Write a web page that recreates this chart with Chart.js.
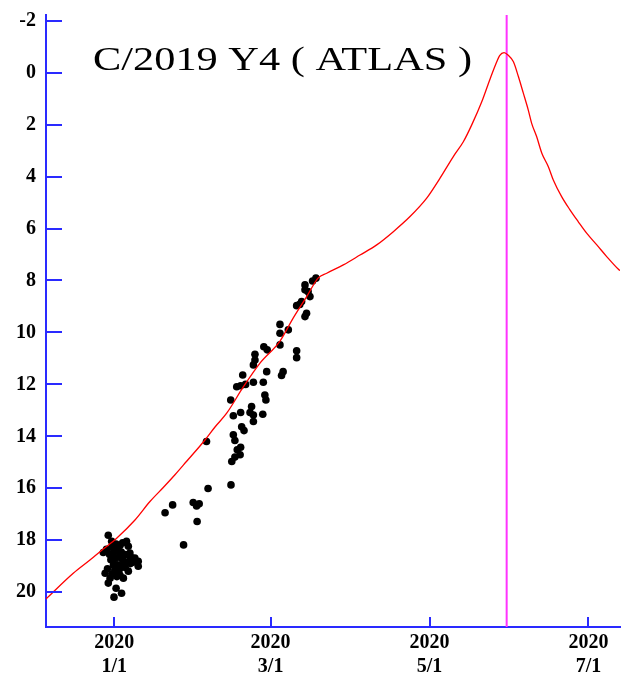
<!DOCTYPE html>
<html><head><meta charset="utf-8">
<style>html,body{margin:0;padding:0;background:#fff;}#wrap{width:624px;height:680px;}</style>
<script src="https://cdn.jsdelivr.net/npm/chart.js@4"></script>
</head><body><div id="wrap"><canvas id="c" width="624" height="680"></canvas></div>
<script>
const TITLE = 'C/2019 Y4 ( ATLAS )';
// x values are days from 2020-01-01
const X_TICK_DAYS = [0, 60, 121, 182];
const X_TICK_LABELS = [['2020', '1/1'], ['2020', '3/1'], ['2020', '5/1'], ['2020', '7/1']];
const Y_TICKS = [-2, 0, 2, 4, 6, 8, 10, 12, 14, 16, 18, 20];
const X_RANGE = [-26.2, 194.1];
const Y_RANGE = [-2.22, 21.34];
const PERIHELION_DAY = 150.6;

const CURVE_DAYS = [-26.2, -15.74, -9.33, -4.22, 0.92, 7.95, 13.70, 18.81, 23.30, 27.79, 34.82, 38.66, 43.15, 49.52,
  55.93, 63.61, 68.71, 73.86, 78.31,
  81.54, 87.91, 94.32, 100.73, 107.10, 113.51, 119.92, 125.03, 130.13, 133.97, 137.20, 141.04, 144.2, 146.8,
  147.9, 149.6, 151.1, 153.2, 155.1, 157.0, 158.9, 160.2, 162.1, 164.1, 166.6, 168.5, 171.7, 174.9, 178.1,
  181.3, 185.2, 189.0, 193.5, 194.1];
const CURVE_MAGS = [20.26, 19.27, 18.76, 18.34, 17.92, 17.22, 16.51, 15.97, 15.48, 14.96, 14.14, 13.64, 13.11, 12.10,
  11.18, 10.33, 9.44, 8.62, 7.90,
  7.72, 7.40, 7.02, 6.63, 6.12, 5.54, 4.83, 4.06, 3.23, 2.66, 2.01, 1.12, 0.25, -0.42,
  -0.66, -0.77, -0.68, -0.42, 0.15, 0.79, 1.44, 1.95, 2.46, 3.10, 3.62, 4.13, 4.77, 5.28, 5.74,
  6.18, 6.63, 7.08, 7.57, 7.62];

const OBS_DAYS = [77.4, 76.1, 73.2, 73.2, 74.4, 75.1, 71.9, 70.0, 71.2, 73.8, 73.2, 63.6, 63.6, 66.8, 63.6, 70.0, 70.0,
  57.4, 58.7, 54.0, 54.0, 53.4, 58.5, 64.8, 64.2, 49.3, 53.4, 57.2, 47.0, 48.5, 50.4, 44.7, 57.8, 58.2, 52.7,
  45.7, 48.5, 52.1, 53.4, 57.0, 53.4, 48.9, 49.8, 45.7, 46.3, 48.5, 47.2, 48.3, 46.3, 45.1, 44.8, 35.4, 36.0,
  30.3, 32.6, 31.6, 22.4, 19.5, 31.8, 26.6,
  -2.3, -1.0, 4.7, 5.4, 6.0, 6.7, 9.2, 9.2, 5.4, -4.2, 7.9, -3.5, -1.6, 3.5, -2.3, 0.7, 2.8, -0.1,
  -0.8, 0.7, 2.2, 3.2, -1.8, -0.3, 1.2, 2.7, 4.2, 5.7, 6.7, -1.3, 0.2, 1.7, 3.2, 4.7, 6.2, 7.2,
  -0.3, 1.2, 2.7, 4.2, 0.2, 1.7, -2.6, -0.8, 1.0, 2.2, -3.0, 3.7, 2.0];
const OBS_MAGS = [7.91, 8.02, 8.17, 8.36, 8.43, 8.62, 8.81, 8.97, 8.92, 9.26, 9.39, 9.69, 10.03, 9.90, 10.48, 10.71, 10.97,
  10.55, 10.67, 10.84, 11.06, 11.25, 11.51, 11.51, 11.66, 11.64, 11.92, 11.92, 12.09, 12.05, 12.00, 12.60, 12.41, 12.60, 12.85,
  13.21, 13.08, 13.08, 13.18, 13.15, 13.43, 13.63, 13.78, 13.94, 14.16, 14.42, 14.52, 14.71, 14.80, 14.97, 15.87, 14.20, 16.01,
  16.55, 16.60, 16.68, 16.64, 16.94, 17.28, 18.18,
  17.81, 18.04, 18.04, 18.23, 18.49, 18.68, 18.81, 19.00, 19.19, 18.47, 18.69, 19.27, 19.46, 19.46, 19.65, 19.85, 20.04, 20.19,
  18.25, 18.15, 18.20, 18.10, 18.55, 18.45, 18.40, 18.45, 18.55, 18.60, 18.75, 18.75, 18.70, 18.65, 18.75, 18.85, 18.90, 18.85,
  18.95, 18.95, 19.00, 19.05, 19.15, 19.20, 19.10, 19.30, 19.40, 19.35, 18.35, 18.90, 19.10];

const AXIS_BLUE = '#2a2aff';

const decor = {
  id: 'decor',
  afterDraw(chart) {
    const ctx = chart.ctx;
    const xs = chart.scales.x, ys = chart.scales.y;
    const ca = chart.chartArea;
    ctx.save();
    ctx.strokeStyle = AXIS_BLUE;
    ctx.lineWidth = 2;
    ys.ticks.forEach(t => {
      const py = Math.round(ys.getPixelForValue(t.value));
      ctx.beginPath(); ctx.moveTo(ca.left, py); ctx.lineTo(ca.left + 16, py); ctx.stroke();
    });
    xs.ticks.forEach(t => {
      const px = Math.round(xs.getPixelForValue(t.value));
      ctx.beginPath(); ctx.moveTo(px, ca.bottom); ctx.lineTo(px, ca.bottom - 10); ctx.stroke();
    });
    // title
    ctx.fillStyle = '#000';
    ctx.font = '34px "Liberation Serif"';
    ctx.textBaseline = 'alphabetic';
    const w = ctx.measureText(TITLE).width;
    ctx.translate(93, 69.5);
    ctx.scale(379 / w, 1);
    ctx.fillText(TITLE, 0, 0);
    ctx.restore();
  }
};

const tickFont = { family: 'Liberation Serif', size: 20, weight: 'bold', lineHeight: 1.2 };
const zeroPad = s => { s.paddingTop = 0; s.paddingBottom = 0; s.paddingLeft = 0; s.paddingRight = 0; };

new Chart(document.getElementById('c'), {
  type: 'scatter',
  data: {
    datasets: [
      {
        label: 'model', type: 'line', showLine: true,
        data: CURVE_DAYS.map((d, i) => ({ x: d, y: CURVE_MAGS[i] })),
        borderColor: '#ff0000', borderWidth: 1.3, pointRadius: 0, cubicInterpolationMode: 'monotone', order: 0
      },
      {
        label: 'obs',
        data: OBS_DAYS.map((d, i) => ({ x: d, y: OBS_MAGS[i] })),
        backgroundColor: '#000', borderWidth: 0, pointRadius: 3.8, order: 1
      },
      {
        label: 'perihelion', type: 'line', showLine: true,
        data: [{ x: PERIHELION_DAY, y: Y_RANGE[0] }, { x: PERIHELION_DAY, y: Y_RANGE[1] }],
        borderColor: '#ff33ff', borderWidth: 2, pointRadius: 0, order: 2
      }
    ]
  },
  options: {
    responsive: false,
    animation: false,
    devicePixelRatio: 1,
    layout: { padding: { top: 15, left: 0, right: 0, bottom: 0 } },
    plugins: { legend: { display: false }, tooltip: { enabled: false }, title: { display: false } },
    scales: {
      x: {
        type: 'linear', min: X_RANGE[0], max: X_RANGE[1],
        afterBuildTicks: s => { s.ticks = X_TICK_DAYS.map(v => ({ value: v })); },
        afterFit: s => { s.height = 53; zeroPad(s); },
        grid: { display: false, drawTicks: false },
        border: { display: true, color: AXIS_BLUE, width: 2 },
        ticks: {
          autoSkip: false, maxRotation: 0, minRotation: 0, padding: 4, color: '#000', font: tickFont,
          callback: v => { const i = X_TICK_DAYS.indexOf(v); return i >= 0 ? X_TICK_LABELS[i] : ''; }
        }
      },
      y: {
        type: 'linear', reverse: true, min: Y_RANGE[0], max: Y_RANGE[1],
        afterBuildTicks: s => { s.ticks = Y_TICKS.map(v => ({ value: v })); },
        afterFit: s => { s.width = 46; zeroPad(s); },
        grid: { display: false, drawTicks: false },
        border: { display: true, color: AXIS_BLUE, width: 2 },
        ticks: { padding: 10, color: '#000', font: tickFont, callback: v => String(v) }
      }
    }
  },
  plugins: [decor]
});
</script></body></html>
